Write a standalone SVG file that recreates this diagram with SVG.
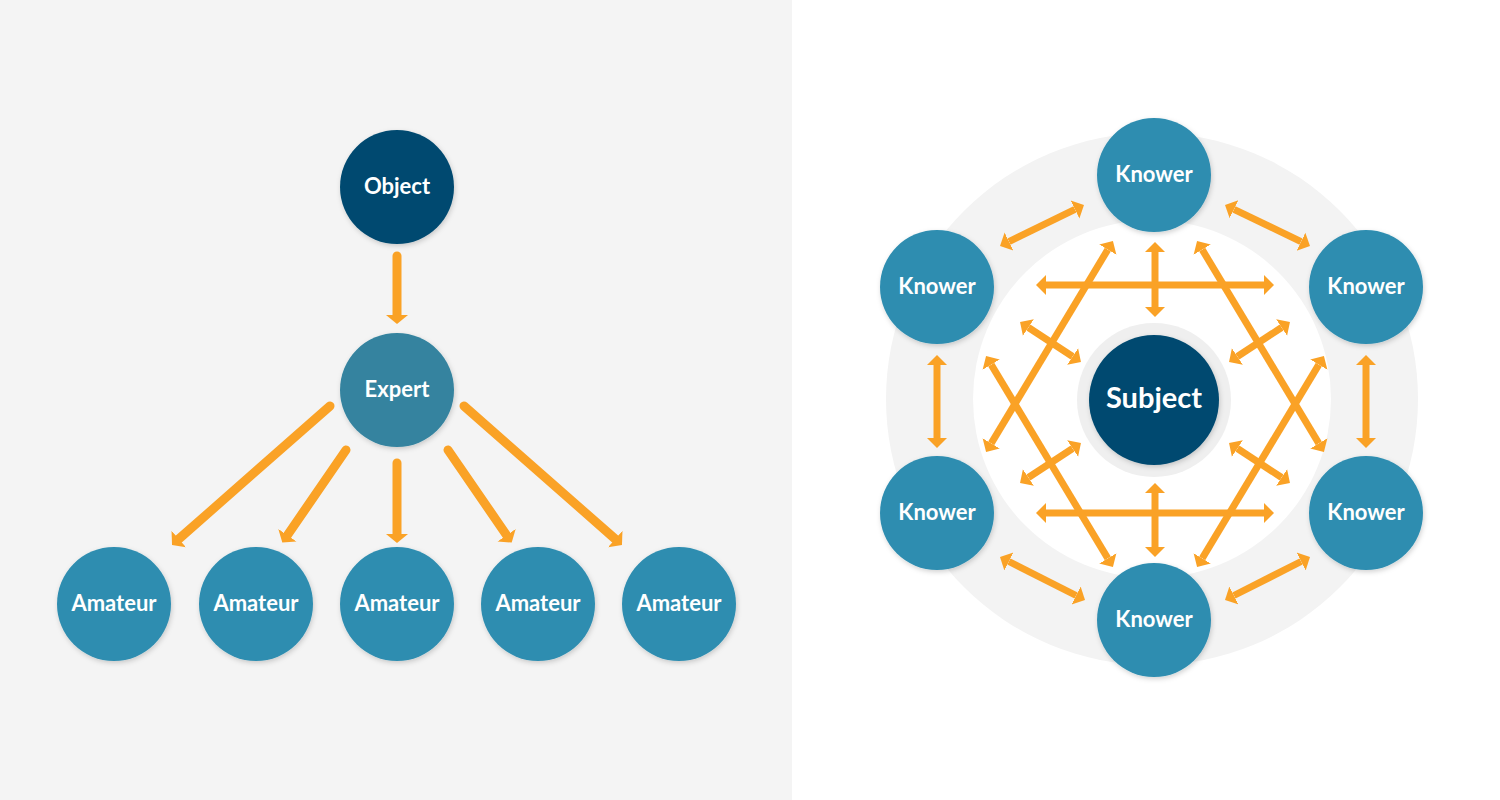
<svg xmlns="http://www.w3.org/2000/svg" width="1500" height="800" viewBox="0 0 1500 800">
<style>
.dark{fill:#034a70}
.mid{fill:#34839f}
.light{fill:#2e8db0}
.lbl{font-family:Lato,"Open Sans","Liberation Sans",sans-serif;font-weight:700;fill:#ffffff;text-anchor:middle;font-size:22px}
.big{font-size:29px}
.a1{stroke:#faa226;stroke-width:9;stroke-linecap:round;fill:none;marker-end:url(#h1)}
.a2{stroke:#faa226;stroke-width:7;stroke-linecap:butt;fill:none;marker-start:url(#h2);marker-end:url(#h2)}
</style>
<defs>
<filter id="sh" x="-20%" y="-20%" width="140%" height="140%">
<feDropShadow dx="1" dy="2" stdDeviation="2.5" flood-color="#000" flood-opacity="0.18"/>
</filter>
<marker id="h1" markerUnits="userSpaceOnUse" viewBox="0 -12 10 24" markerWidth="10" markerHeight="24" refX="0" refY="0" orient="auto-start-reverse">
<path d="M0,-11 L9,0 L0,11 Z" fill="#faa226"/>
</marker>
<marker id="h2" markerUnits="userSpaceOnUse" viewBox="0 -11 11 22" markerWidth="11" markerHeight="22" refX="0" refY="0" orient="auto-start-reverse">
<path d="M0,-10 L10,0 L0,10 Z" fill="#faa226"/>
</marker>
</defs>
<rect x="0" y="0" width="1500" height="800" fill="#ffffff"/>
<rect x="0" y="0" width="792" height="800" fill="#f4f4f4"/>
<circle cx="1152" cy="399" r="266" fill="#f3f3f3"/>
<circle cx="1152" cy="399" r="179" fill="#ffffff"/>
<circle cx="1154" cy="400" r="77" fill="#efefef"/>
<g id="connectors">
<line class="a1" x1="397" y1="256" x2="397" y2="315"/>
<line class="a1" x1="397" y1="463" x2="397" y2="534"/>
<line class="a1" x1="448" y1="450" x2="506.6" y2="535.2"/>
<line class="a1" x1="464" y1="406" x2="615.2" y2="539"/>
<line class="a1" x1="346" y1="450" x2="287.4" y2="535.2"/>
<line class="a1" x1="330" y1="406" x2="178.8" y2="539"/>
<line class="a2" x1="1009.0" y1="241.6" x2="1075.0" y2="209.4"/>
<line class="a2" x1="1234.0" y1="209.3" x2="1301.0" y2="241.7"/>
<line class="a2" x1="937" y1="365" x2="937" y2="438"/>
<line class="a2" x1="1366" y1="365" x2="1366" y2="438"/>
<line class="a2" x1="1008.9" y1="561.5" x2="1076.1" y2="595.5"/>
<line class="a2" x1="1233.9" y1="595.5" x2="1301.1" y2="561.5"/>
<line class="a2" x1="1155" y1="252" x2="1155" y2="307"/>
<line class="a2" x1="1155" y1="493" x2="1155" y2="547"/>
<line class="a2" x1="1046" y1="285" x2="1264" y2="285"/>
<line class="a2" x1="1046" y1="513" x2="1264" y2="513"/>
<line class="a2" x1="1028.4" y1="327.5" x2="1072.6" y2="356.5"/>
<line class="a2" x1="1281.6" y1="327.5" x2="1237.4" y2="356.5"/>
<line class="a2" x1="1028.4" y1="477.5" x2="1072.6" y2="448.5"/>
<line class="a2" x1="1281.6" y1="477.5" x2="1237.4" y2="448.5"/>
<line class="a2" x1="1107.8" y1="249.6" x2="991.2" y2="443.4"/>
<line class="a2" x1="1202.2" y1="249.6" x2="1318.8" y2="443.4"/>
<line class="a2" x1="1107.8" y1="558.4" x2="991.2" y2="364.6"/>
<line class="a2" x1="1202.2" y1="558.4" x2="1318.8" y2="364.6"/>
</g>
<g id="object"><circle class="dark" cx="397" cy="187" r="57" filter="url(#sh)"/><text class="lbl" x="397" y="194">Object</text></g>
<g id="expert"><circle class="mid" cx="397" cy="390" r="57" filter="url(#sh)"/><text class="lbl" x="397" y="397">Expert</text></g>
<g id="amateur1"><circle class="light" cx="114" cy="604" r="57" filter="url(#sh)"/><text class="lbl" x="114" y="611">Amateur</text></g>
<g id="amateur2"><circle class="light" cx="256" cy="604" r="57" filter="url(#sh)"/><text class="lbl" x="256" y="611">Amateur</text></g>
<g id="amateur3"><circle class="light" cx="397" cy="604" r="57" filter="url(#sh)"/><text class="lbl" x="397" y="611">Amateur</text></g>
<g id="amateur4"><circle class="light" cx="538" cy="604" r="57" filter="url(#sh)"/><text class="lbl" x="538" y="611">Amateur</text></g>
<g id="amateur5"><circle class="light" cx="679" cy="604" r="57" filter="url(#sh)"/><text class="lbl" x="679" y="611">Amateur</text></g>
<g id="subject"><circle class="dark" cx="1154" cy="400" r="65" filter="url(#sh)"/><text class="lbl big" x="1154" y="408">Subject</text></g>
<g id="knower-top"><circle class="light" cx="1154" cy="175" r="57" filter="url(#sh)"/><text class="lbl" x="1154" y="182">Knower</text></g>
<g id="knower-ul"><circle class="light" cx="937" cy="287" r="57" filter="url(#sh)"/><text class="lbl" x="937" y="294">Knower</text></g>
<g id="knower-ur"><circle class="light" cx="1366" cy="287" r="57" filter="url(#sh)"/><text class="lbl" x="1366" y="294">Knower</text></g>
<g id="knower-ll"><circle class="light" cx="937" cy="513" r="57" filter="url(#sh)"/><text class="lbl" x="937" y="520">Knower</text></g>
<g id="knower-lr"><circle class="light" cx="1366" cy="513" r="57" filter="url(#sh)"/><text class="lbl" x="1366" y="520">Knower</text></g>
<g id="knower-bottom"><circle class="light" cx="1154" cy="620" r="57" filter="url(#sh)"/><text class="lbl" x="1154" y="627">Knower</text></g>
</svg>
